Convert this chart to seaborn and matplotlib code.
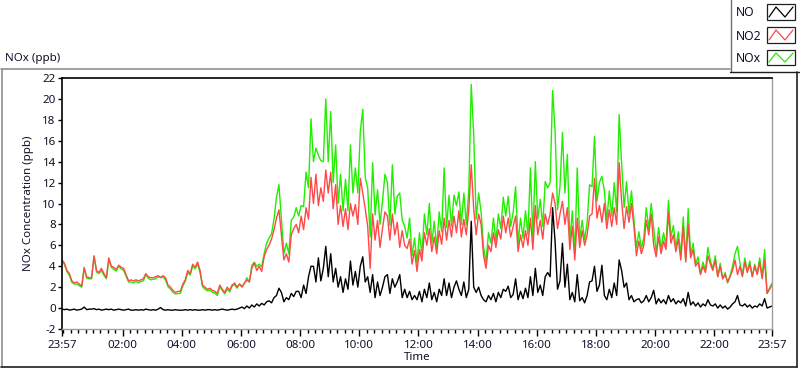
import numpy as np
import pandas as pd
import matplotlib
matplotlib.use("Agg")
import matplotlib.pyplot as plt
import seaborn as sns
from matplotlib.patches import Rectangle
from matplotlib.lines import Line2D

# ---- data: 5-minute readings, minutes after 23:57 ----
minutes = np.arange(0, 1441, 5)

no2_ppb = [
    4.6, 4.3, 3.6, 3.3, 2.6, 2.4, 2.5, 2.3, 2.1, 3.8, 3.0, 2.9,
    2.9, 5.0, 3.6, 3.4, 3.8, 3.3, 2.9, 4.8, 4.0, 3.9, 3.7, 4.1,
    3.9, 3.8, 3.2, 2.6, 2.7, 2.6, 2.7, 2.6, 2.7, 2.8, 3.3, 3.0,
    2.9, 2.9, 3.0, 3.1, 2.9, 3.1, 2.9, 2.2, 2.0, 1.7, 1.5, 1.6,
    1.6, 2.3, 2.7, 3.6, 3.3, 4.2, 3.9, 4.4, 3.6, 2.2, 2.0, 1.8,
    1.9, 1.7, 1.6, 1.4, 2.2, 1.8, 1.5, 2.0, 1.7, 2.2, 2.4, 2.0,
    2.3, 2.0, 2.4, 2.7, 2.5, 3.8, 4.3, 3.6, 4.0, 3.5, 4.9, 5.6,
    6.0, 6.6, 7.5, 8.6, 9.4, 7.0, 4.6, 5.2, 4.4, 7.0, 7.6, 8.0,
    7.2, 8.8, 7.5, 9.6, 8.5, 12.5, 10.0, 12.8, 9.8, 11.5, 10.2, 13.2,
    11.0, 13.0, 9.5, 11.8, 8.0, 9.8, 7.8, 9.5, 7.5, 10.0, 8.8, 9.9,
    8.0, 12.4, 11.0, 9.5, 7.8, 3.8, 9.0, 6.5, 8.4, 5.8, 7.6, 9.2,
    8.8, 6.5, 9.0, 7.0, 8.2, 5.8, 7.4, 6.0, 5.7, 6.6, 4.2, 5.5,
    3.5, 5.6, 4.5, 7.2, 6.0, 7.6, 5.4, 6.8, 5.2, 7.4, 6.1, 8.6,
    6.5, 8.4, 6.8, 8.8, 7.2, 9.3, 6.8, 8.5, 7.0, 9.4, 13.7, 9.5,
    7.0, 9.0, 8.0, 5.0, 3.8, 6.0, 5.4, 7.2, 5.8, 7.5, 6.6, 8.8,
    7.2, 8.6, 6.8, 7.8, 8.8, 5.4, 7.0, 5.8, 7.4, 6.0, 8.6, 5.6,
    9.8, 7.0, 8.4, 6.6, 9.0, 8.0, 9.0, 11.0, 10.0, 7.6, 9.0, 10.2,
    8.0, 9.6, 5.6, 7.8, 4.6, 8.6, 5.8, 7.4, 6.0, 7.0, 8.8, 9.0,
    12.4, 8.6, 9.8, 8.2, 10.0, 7.6, 9.4, 7.8, 9.6, 8.0, 13.9, 10.2,
    7.6, 9.7, 8.2, 10.0, 7.8, 5.0, 6.4, 5.2, 6.0, 8.4, 7.0, 9.0,
    6.0, 4.9, 6.8, 5.2, 6.4, 5.6, 9.1, 6.2, 7.0, 5.4, 6.6, 4.6,
    7.8, 4.4, 8.0, 4.8, 5.6, 4.0, 4.4, 3.2, 4.0, 3.4, 5.0, 4.2,
    3.6, 4.6, 3.0, 4.0, 2.8, 3.2, 2.5, 3.0, 3.6, 4.6, 3.2, 4.0,
    3.0, 4.4, 3.4, 4.2, 3.0, 4.0, 3.2, 4.4, 2.8, 4.6, 1.4, 1.8,
    2.2,
]

no_ppb = [
    -0.1, -0.15, -0.1, -0.2, -0.15, -0.1, -0.2, -0.15, -0.1, 0.1, -0.15, -0.1,
    -0.1, -0.05, -0.15, -0.1, -0.2, -0.15, -0.1, -0.15, -0.1, -0.2, -0.15, -0.1,
    -0.15, -0.2, -0.15, -0.1, -0.2, -0.2, -0.15, -0.2, -0.15, -0.2, -0.1, -0.15,
    -0.2, -0.15, -0.2, -0.1, 0.05, -0.15, -0.2, -0.15, -0.2, -0.2, -0.15, -0.2,
    -0.2, -0.2, -0.15, -0.2, -0.15, -0.2, -0.15, -0.2, -0.2, -0.15, -0.2, -0.15,
    -0.15, -0.2, -0.15, -0.2, -0.15, -0.1, -0.15, -0.2, -0.15, -0.1, -0.15, -0.1,
    0.0, 0.1, -0.05, 0.2, 0.0, 0.3, 0.1, 0.4, 0.2, 0.45, 0.3, 0.6,
    0.7, 0.5, 1.0, 1.2, 1.9, 1.5, 0.6, 1.0, 0.8, 1.4, 1.1, 1.6,
    1.6, 1.0, 2.2, 1.4, 3.0, 4.0, 4.0, 2.5, 4.8, 2.6, 3.8, 5.9,
    3.0, 5.2, 2.5, 3.8, 2.0, 3.0, 1.5, 2.8, 1.8, 4.5, 2.2, 3.5,
    2.0, 4.0, 4.9, 2.5, 3.0, 1.5, 3.2, 1.0, 2.5, 1.2, 2.0, 3.0,
    3.2, 1.4, 2.8, 2.0, 2.5, 3.2, 1.0, 1.8, 1.0, 1.6, 0.8, 1.2,
    0.8, 1.6, 0.6, 1.8, 1.0, 2.4, 0.8, 1.5, 0.6, 1.8, 1.2, 2.8,
    1.2, 2.4, 1.0, 2.0, 2.6, 1.8, 1.2, 2.5, 1.0, 1.8, 8.3, 2.0,
    1.5, 2.0, 1.2, 0.8, 0.6, 1.2, 0.8, 1.4, 0.6, 1.5, 1.0, 1.8,
    1.6, 2.1, 1.0, 1.3, 2.8, 0.8, 1.6, 0.9, 1.9, 1.0, 3.0, 1.2,
    3.8, 1.5, 2.2, 1.2, 3.0, 3.4, 3.0, 9.6, 6.4, 1.8, 2.6, 6.2,
    2.0, 4.2, 0.8, 1.5, 0.6, 3.2, 0.7, 1.0, 0.5, 1.2, 2.5, 2.6,
    4.0, 1.6, 2.2, 4.1, 1.2, 0.8, 1.8, 1.0, 2.4, 1.2, 4.6, 3.6,
    2.0, 2.4, 0.8, 1.2, 0.6, 0.8, 0.9, 0.5, 0.7, 1.2, 0.6, 1.0,
    1.7, 0.4, 0.9, 0.5, 0.8, 0.4, 1.2, 0.6, 0.9, 0.4, 0.7, 0.5,
    0.9, 0.2, 1.5, 0.3, 0.6, 0.2, 0.5, 0.1, 0.4, 0.2, 0.8, 0.3,
    0.2, 0.4, 0.0, 0.3, 0.0, 0.2, -0.1, 0.1, 0.4, 0.6, 1.2, 0.3,
    0.2, 0.4, 0.1, 0.3, 0.0, 0.2, 0.1, 0.4, 0.2, 0.9, 0.0, 0.1,
    0.2,
]

nox_ppb = [
    4.5, 4.15, 3.5, 3.1, 2.45, 2.3, 2.3, 2.15, 2.0, 3.9, 2.85, 2.8,
    2.8, 4.95, 3.45, 3.3, 3.6, 3.15, 2.8, 4.65, 3.9, 3.7, 3.55, 4.0,
    3.75, 3.6, 3.05, 2.5, 2.5, 2.4, 2.55, 2.4, 2.55, 2.6, 3.2, 2.85,
    2.7, 2.75, 2.8, 3.0, 2.95, 2.95, 2.7, 2.05, 1.8, 1.5, 1.35, 1.4,
    1.4, 2.1, 2.55, 3.4, 3.15, 4.0, 3.75, 4.2, 3.4, 2.05, 1.8, 1.65,
    1.75, 1.5, 1.45, 1.2, 2.05, 1.7, 1.35, 1.8, 1.55, 2.1, 2.25, 1.9,
    2.3, 2.1, 2.35, 2.9, 2.5, 4.1, 4.4, 4.0, 4.2, 3.95, 5.2, 6.2,
    6.7, 7.1, 8.5, 10.6, 11.8, 8.5, 5.2, 6.2, 5.2, 8.4, 8.7, 9.6,
    8.8, 9.8, 9.7, 13.0, 11.5, 18.1, 14.0, 15.3, 14.6, 14.1, 14.0, 20.0,
    14.0, 18.8, 12.0, 15.6, 10.0, 12.8, 9.3, 12.3, 9.3, 15.6, 11.0, 13.4,
    11.0, 16.9, 19.0, 12.5, 11.5, 6.8, 13.9, 8.9, 11.3, 8.0, 10.2, 12.8,
    12.0, 7.9, 13.7, 9.0, 10.7, 11.0, 8.4, 7.8, 6.7, 8.6, 5.0, 6.7,
    4.3, 7.2, 5.1, 9.0, 7.0, 10.0, 6.2, 8.3, 5.8, 9.2, 7.3, 13.4,
    7.7, 10.8, 7.8, 10.8, 9.8, 11.1, 8.0, 11.0, 8.0, 11.2, 21.4, 16.6,
    8.5, 11.0, 9.2, 5.8, 4.4, 7.2, 6.2, 8.6, 6.4, 9.0, 7.6, 10.6,
    8.8, 10.7, 7.8, 9.1, 11.6, 6.2, 8.6, 6.7, 9.3, 7.0, 13.4, 6.8,
    14.0, 8.5, 10.4, 7.8, 12.1, 11.5, 12.0, 20.8, 17.0, 9.4, 11.6, 16.8,
    11.0, 14.7, 6.4, 9.3, 5.2, 13.4, 6.5, 8.4, 6.5, 8.2, 11.8, 11.6,
    16.4, 10.2, 12.0, 12.6, 11.2, 8.4, 11.2, 8.8, 12.0, 9.2, 18.5, 13.8,
    9.6, 12.1, 9.0, 11.2, 8.4, 5.8, 7.3, 5.7, 6.7, 9.6, 7.6, 10.0,
    7.7, 5.3, 7.7, 5.7, 7.2, 6.0, 10.3, 6.8, 7.9, 5.8, 7.3, 5.1,
    8.7, 4.6, 9.5, 5.1, 6.2, 4.2, 4.9, 3.3, 4.4, 3.6, 5.8, 4.5,
    3.8, 5.0, 3.0, 4.3, 2.8, 3.4, 2.4, 3.1, 4.0, 5.2, 5.9, 4.3,
    3.2, 4.8, 3.5, 4.5, 3.0, 4.2, 3.3, 4.8, 3.0, 5.6, 1.4, 1.9,
    2.4,
]

series_names = ["NO", "NO2", "NOx"]
tick_labels = ["23:57", "02:00", "04:00", "06:00", "08:00", "10:00", "12:00",
               "14:00", "16:00", "18:00", "20:00", "22:00", "23:57"]
y_ticks = list(range(-2, 23, 2))

# ---- figure ----
sns.set_style("white")
plt.rcParams["font.family"] = ["Noto Sans", "DejaVu Sans"]
TXT = "#10102a"

fig = plt.figure(figsize=(8.0, 3.69), dpi=100)
W, H = 800, 369
ax = fig.add_axes([62 / W, 40 / H, 710 / W, 251 / H])

df = pd.DataFrame({"t": minutes, "NO": no_ppb, "NO2": no2_ppb, "NOx": nox_ppb})
colors = {"NO": "#000000", "NO2": "#ff4848", "NOx": "#22ee00"}
for name in ["NOx", "NO2", "NO"]:
    sns.lineplot(data=df, x="t", y=name, ax=ax, color=colors[name],
                 lw=1.0, estimator=None, legend=False)

ax.set_xlim(0, 1440)
ax.set_ylim(-2, 22)


def label_to_min(lbl, last=False):
    h, m = map(int, lbl.split(":"))
    v = (h * 60 + m + 3) % 1440
    return 1440 if last and v == 0 else v


major = [label_to_min(l, i == len(tick_labels) - 1) for i, l in enumerate(tick_labels)]
ax.set_xticks(major)
ax.set_xticklabels(tick_labels)
minor = [m for m in range(3, 1440, 15) if m not in major]
ax.set_xticks(minor, minor=True)
ax.set_yticks(y_ticks)
ax.set_yticklabels([str(v) for v in y_ticks])

ax.tick_params(axis="x", which="major", length=5, width=1, color="black",
               direction="out", pad=3, labelsize=8.3, labelcolor=TXT, bottom=True)
ax.tick_params(axis="x", which="minor", length=3, width=1, color="black",
               direction="out", bottom=True)
ax.tick_params(axis="y", which="major", length=3, width=1, color="black",
               direction="out", pad=1.5, labelsize=8.3, labelcolor=TXT, left=True)

for s in ["left", "top"]:
    ax.spines[s].set_color("black")
    ax.spines[s].set_linewidth(1.2)
for s in ["right", "bottom"]:
    ax.spines[s].set_color("#a0a0a0")
    ax.spines[s].set_linewidth(1.0)
ax.grid(False)

ax.set_xlabel("Time", fontsize=8.3, color=TXT, labelpad=1)
ax.set_ylabel("NOx Concentration (ppb)", fontsize=8.3, color=TXT, labelpad=6)

# title
fig.text(5 / W, 1 - 58 / H, "NOx (ppb)", fontsize=8.3, color=TXT,
         ha="left", va="center")


def fx(px):
    return px / W


def fy(py):
    return 1 - py / H


# outer frame
fig.add_artist(Line2D([fx(1), fx(730)], [fy(69), fy(69)], color="#909090", lw=1.2))
fig.add_artist(Line2D([fx(1.5), fx(1.5)], [fy(69), fy(367)], color="#909090", lw=1.2))
fig.add_artist(Line2D([fx(1), fx(797)], [fy(367), fy(367)], color="#202020", lw=1.2))
fig.add_artist(Line2D([fx(797), fx(797)], [fy(72), fy(367)], color="#202020", lw=1.2))

# legend box
fig.add_artist(Line2D([fx(730.5), fx(730.5)], [fy(0), fy(72)], color="#707070", lw=1.0))
fig.add_artist(Line2D([fx(730), fx(800)], [fy(72), fy(72)], color="#202020", lw=1.0))
rows = [(4, 20, 13), (27, 43, 36), (50, 65, 59)]
for name, (top, bot, ty) in zip(series_names, rows):
    fig.text(fx(736), fy(ty), name, fontsize=8.8, color=TXT, ha="left", va="center")
    fig.add_artist(Rectangle((fx(767), fy(bot)), fx(28), (bot - top) / H,
                             facecolor="white", edgecolor="#202020", lw=0.9))
    xs = [769, 776, 785, 793]
    ys = [bot - 3, top + 3, bot - 3, top + 3]
    fig.add_artist(Line2D([fx(v) for v in xs], [fy(v) for v in ys],
                          color=colors[name], lw=0.9))

fig.savefig("out.png", dpi=100)
